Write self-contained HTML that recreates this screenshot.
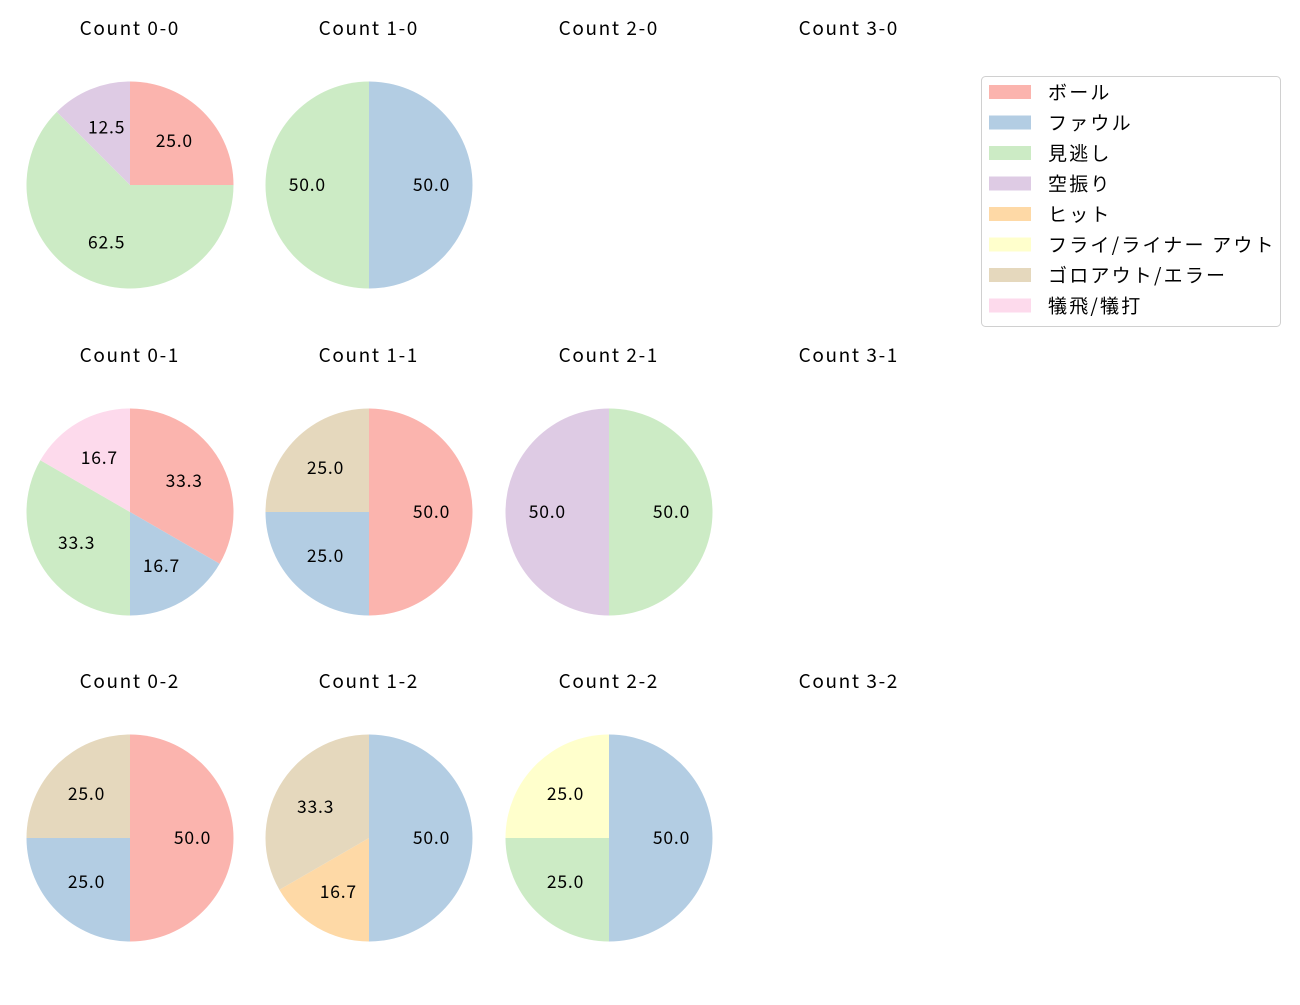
<!DOCTYPE html>
<html><head><meta charset="utf-8">
<style>
body{margin:0;background:#fff;}
svg text{font-family:"Noto Sans CJK JP","DejaVu Sans",sans-serif;}
</style></head>
<body>
<svg id="chart" width="1300" height="1000" xmlns="http://www.w3.org/2000/svg">
<rect width="1300" height="1000" fill="#fff"/>
</svg>
<script>
const categories = ["ボール","ファウル","見逃し","空振り","ヒット","フライ/ライナー アウト","ゴロアウト/エラー","犠飛/犠打"];
const colors = ["#fbb4ae","#b3cde3","#ccebc5","#decbe4","#fed9a6","#ffffcc","#e5d8bd","#fddaec"];
const countLabels = ["Count 0-0","Count 1-0","Count 2-0","Count 3-0","Count 0-1","Count 1-1","Count 2-1","Count 3-1","Count 0-2","Count 1-2","Count 2-2","Count 3-2"];
const values00 = [2,0,5,1,0,0,0,0];
const values10 = [0,1,1,0,0,0,0,0];
const values20 = [0,0,0,0,0,0,0,0];
const values30 = [0,0,0,0,0,0,0,0];
const values01 = [2,1,2,0,0,0,0,1];
const values11 = [2,1,0,0,0,0,1,0];
const values21 = [0,0,1,1,0,0,0,0];
const values31 = [0,0,0,0,0,0,0,0];
const values02 = [2,1,0,0,0,0,1,0];
const values12 = [0,3,0,0,1,0,2,0];
const values22 = [0,2,1,0,0,1,0,0];
const values32 = [0,0,0,0,0,0,0,0];
const allValues = [values00,values10,values20,values30,values01,values11,values21,values31,values02,values12,values22,values32];

const NS="http://www.w3.org/2000/svg";
const svg=document.getElementById('chart');
const colX=[130,369,609,849], rowY=[185,512,838], R=103.5;
function mk(tag,attrs){const e=document.createElementNS(NS,tag);for(const k in attrs)e.setAttribute(k,attrs[k]);return e;}
function pt(cx,cy,r,frac){const a=Math.PI/2-frac*2*Math.PI;return [cx+r*Math.cos(a),cy-r*Math.sin(a)];}

allValues.forEach((vals,i)=>{
  const cx=colX[i%4], cy=rowY[Math.floor(i/4)];
  const g=mk('g',{});
  
  
  svg.appendChild(g);
  const t=mk('text',{x:cx-1+0.8,y:cy-150,'text-anchor':'middle','font-size':'19','letter-spacing':'1.6'});
  
  
  t.textContent=countLabels[i];
  g.appendChild(t);
  const total=vals.reduce((a,b)=>a+b,0);
  if(!total) return;
  let acc=0;
  vals.forEach((v,k)=>{
    if(!v) return;
    const f0=acc/total, f1=(acc+v)/total; acc+=v;
    let el;
    if(f1-f0>=0.9999){el=mk('circle',{cx:cx,cy:cy,r:R,fill:colors[k]});}
    else{
      const [x0,y0]=pt(cx,cy,R,f0),[x1,y1]=pt(cx,cy,R,f1);
      el=mk('path',{d:`M${cx},${cy}L${x0},${y0}A${R},${R} 0 ${f1-f0>0.5?1:0} 1 ${x1},${y1}Z`,fill:colors[k]});
    }
    
    
    g.appendChild(el);
    const [lx,ly]=pt(cx,cy,R*0.6,(f0+f1)/2);
    const lt=mk('text',{x:lx+0.4,y:ly+6,'text-anchor':'middle','font-size':'17.5','letter-spacing':'0.8'});
    
    
    lt.textContent=(v/total*100).toFixed(1);
    g.appendChild(lt);
  });
});

const lg=mk('g',{});


svg.appendChild(lg);
lg.appendChild(mk('rect',{x:981.5,y:76.5,width:299,height:250,rx:4,fill:'#fff',stroke:'#d0d0d0'}));
categories.forEach((c,k)=>{
  const y=92+k*30.5;
  const e=mk('g',{});
  
  
  e.appendChild(mk('rect',{x:989,y:y-7,width:42,height:14,fill:colors[k]}));
  const t=mk('text',{x:1048,y:y+7,'font-size':'19','letter-spacing':'2.2'});
  t.textContent=c;
  e.appendChild(t);
  lg.appendChild(e);
});
</script>
</body></html>
